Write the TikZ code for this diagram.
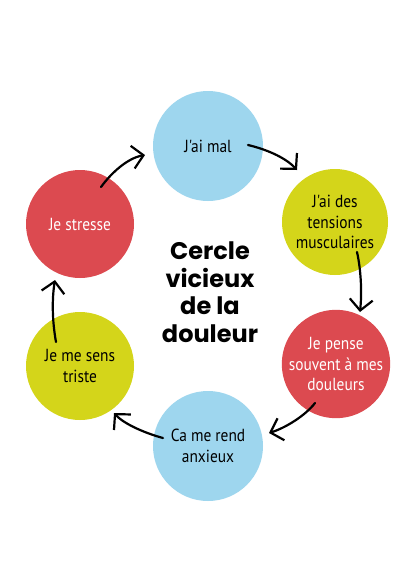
\documentclass[tikz,border=0pt]{standalone}
\usepackage{fontspec}
\setmainfont{PT Sans}
\newfontfamily\bubblefont{PT Sans}[FakeStretch=0.88]
\newfontfamily\titlefont{Poppins}
\usetikzlibrary{arrows.meta,calc}
\definecolor{cblue}{RGB}{158,214,238}
\definecolor{cyellow}{RGB}{212,213,26}
\definecolor{cred}{RGB}{220,74,80}
\begin{document}
\begin{tikzpicture}[x=1pt,y=-1pt,
  bubble/.style={circle, inner sep=0pt, align=center, font=\bubblefont\fontsize{17.5}{20.5}\selectfont},
  arr/.style={line width=2.2pt, line cap=round, -{Straight Barb[length=11pt,width=23pt]}}]
\useasboundingbox[fill=white] (0,0) rectangle (420,582);
\node[bubble, fill=cblue, minimum size=110pt] (c1) at (208,146) {J'ai mal};
\node[bubble, fill=cyellow, minimum size=106pt] (c2) at (335,222) {J'ai des\\tensions\\musculaires};
\node[bubble, fill=cred, text=white, minimum size=108pt] (c3) at (336,364) {Je pense\\souvent à mes\\douleurs};
\node[bubble, fill=cblue, minimum size=110pt] (c4) at (208,446) {Ca me rend\\anxieux};
\node[bubble, fill=cyellow, minimum size=108pt] (c5) at (80,366) {Je me sens\\triste};
\node[bubble, fill=cred, text=white, minimum size=108pt] (c6) at (80,224) {Je stresse};
\node[align=center, font=\titlefont\bfseries\fontsize{24}{27.5}\selectfont] (title) at (210,292) {Cercle\\vicieux\\de la\\douleur};
\draw[arr] ($(c6)+(21,-37)$) .. controls ($(c6)+(32,-52)$) and ($(c6)+(48,-66)$) .. ($(c1)+(-63,9)$);
\draw[arr] ($(c1)+(40,-1)$) .. controls ($(c1)+(57,3)$) and ($(c1)+(77,11)$) .. ($(c2)+(-38,-52)$);
\draw[arr] ($(c2)+(22,30)$) .. controls ($(c2)+(26,48)$) and ($(c2)+(27,70)$) .. ($(c3)+(24,-52)$);
\draw[arr] ($(c3)+(-21,39)$) .. controls ($(c3)+(-31,52)$) and ($(c3)+(-51,64)$) .. ($(c4)+(61,-13)$);
\draw[arr] ($(c4)+(-45,-8)$) .. controls ($(c4)+(-60,-12)$) and ($(c4)+(-83,-21)$) .. ($(c5)+(34,47)$);
\draw[arr] ($(c5)+(-24,-24)$) .. controls ($(c5)+(-28,-46)$) and ($(c5)+(-28,-68)$) .. ($(c6)+(-25,56)$);
\end{tikzpicture}
\end{document}
